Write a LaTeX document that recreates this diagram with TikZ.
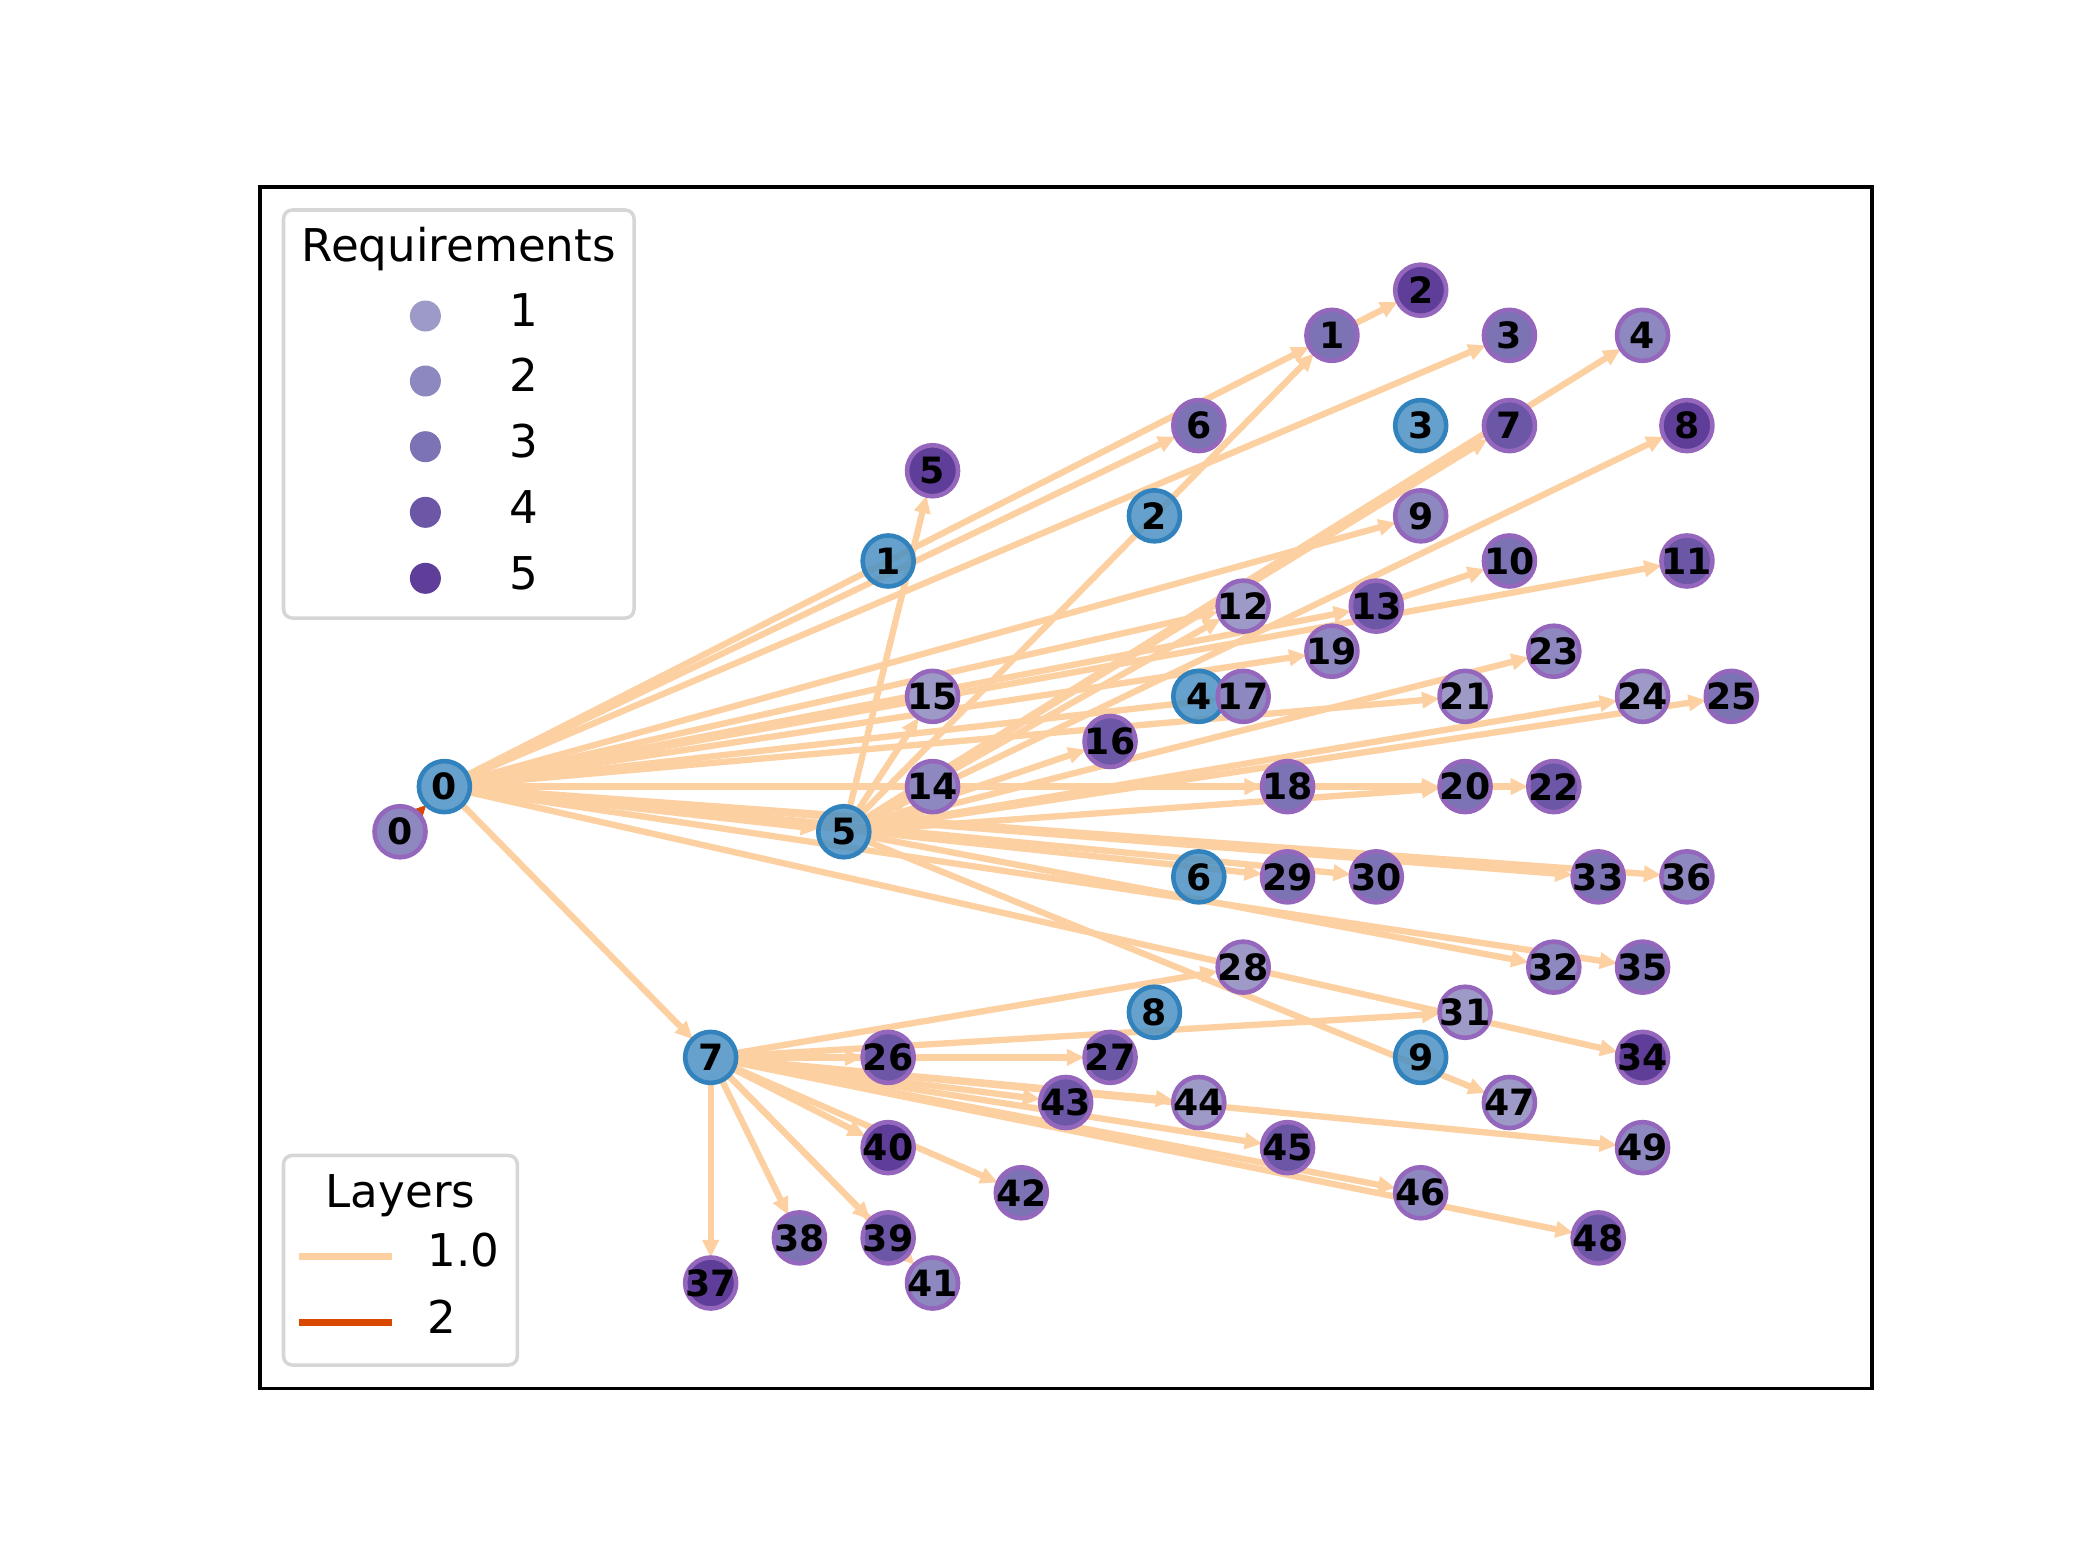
\documentclass[tikz,border=0pt]{standalone}
\usepackage{fontspec}
\setmainfont{DejaVu Sans}
\usepackage{tikz}
\usetikzlibrary{
	arrows.meta,
	backgrounds
}
\definecolor{EdgePeach}{RGB}{253,208,162}
\definecolor{EdgeRed}{RGB}{217,72,1}
\definecolor{HostBlue}{RGB}{74,145,195}
\definecolor{HostLine}{RGB}{49,130,189}
\definecolor{ReqLine}{RGB}{148,103,189}
\definecolor{ReqA}{RGB}{158,154,200}
\definecolor{ReqB}{RGB}{141,137,192}
\definecolor{ReqC}{RGB}{123,115,180}
\definecolor{ReqD}{RGB}{108,86,166}
\definecolor{ReqE}{RGB}{95,62,153}
\definecolor{LegendLine}{RGB}{214,214,214}

\tikzset{
	host/.style={circle, minimum size=0.51cm, inner sep=0pt, outer sep=0pt, line width=1.3pt, draw=HostLine, fill=HostBlue, fill opacity=0.85},
	req/.style={circle, minimum size=0.51cm, inner sep=0pt, outer sep=0pt, line width=1.3pt, draw=ReqLine, fill=#1},
	every label/.style={font=\bfseries\fontsize{10.3}{12}\selectfont, inner sep=0pt, text opacity=1, fill opacity=1},
	link/.style={draw=EdgePeach, line width=1.8pt, -{Triangle[length=5pt, width=4.5pt]}},
	legendbox/.style={draw=LegendLine, fill=white, line width=1pt, rounded corners=2.5pt},
	legendtext/.style={font=\fontsize{12.84}{15.4}\selectfont, inner sep=0pt}
}

\begin{document}
\begin{tikzpicture}[x=0.01cm, y=-0.01cm]
		\useasboundingbox (0,0) rectangle (2080,1560);
		\draw[line width=1pt] (260,187.2) rectangle (1872,1388.4);
		
		\begin{scope}[shift={(444.4,786.6)}, x=0.4435cm, y=0.451cm]
			% 物理节点 0--9
			\foreach \n/\x/\y in {0/0/0, 1/10/5, 2/16/6, 3/22/8, 4/17/2, 5/9/-1, 6/17/-2, 7/6/-6, 8/16/-5, 9/22/-6}
				\node[host, label=center:\n] (h\n) at (\x,\y) {};
			
			% 需求节点 0--49，颜色按需求等级
			\foreach \n/\x/\y/\c in {
				0/-1/-1/ReqB, 1/20/10/ReqC, 2/22/11/ReqE, 3/24/10/ReqC, 4/27/10/ReqB,
				5/11/7/ReqE, 6/17/8/ReqC, 7/24/8/ReqD, 8/28/8/ReqE, 9/22/6/ReqB,
				10/24/5/ReqC, 11/28/5/ReqD, 12/18/4/ReqA, 13/21/4/ReqD, 14/11/0/ReqB,
				15/11/2/ReqA, 16/15/1/ReqD, 17/18/2/ReqB, 18/19/0/ReqC, 19/20/3/ReqB,
				20/23/0/ReqC, 21/23/2/ReqA, 22/25/0/ReqD, 23/25/3/ReqB, 24/27/2/ReqA,
				25/29/2/ReqC, 26/10/-6/ReqD, 27/15/-6/ReqD, 28/18/-4/ReqA, 29/19/-2/ReqC,
				30/21/-2/ReqC, 31/23/-5/ReqA, 32/25/-4/ReqB, 33/26/-2/ReqC, 34/27/-6/ReqE,
				35/27/-4/ReqC, 36/28/-2/ReqB, 37/6/-11/ReqE, 38/8/-10/ReqC, 39/10/-10/ReqD,
				40/10/-8/ReqE, 41/11/-11/ReqB, 42/13/-9/ReqC, 43/14/-7/ReqD, 44/17/-7/ReqA,
				45/19/-8/ReqD, 46/22/-9/ReqB, 47/24/-7/ReqA, 48/26/-10/ReqD, 49/27/-8/ReqB}
				\node[req=\c, label=center:\n] (r\n) at (\x,\y) {};
		\end{scope}
		
		% 连线
		\begin{pgfonlayer}{background}
			\foreach \t in {h5, h7, r1, r6, r3, r9, r12, r13, r11, r19, r17, r21, r18, r20, r29, r30, r33, r36, r35, r34}
				\draw[link] (h0) -- (\t);
			\foreach \t in {r5, r14, r15, r16, r1, r7, r4, r8, r12, r23, r24, r25, r20, r32, r47}
				\draw[link] (h5) -- (\t);
			\foreach \t in {r37, r38, r39, r41, r40, r42, r26, r27, r28, r31, r43, r44, r45, r46, r48, r49}
				\draw[link] (h7) -- (\t);
			\draw[link] (r1) -- (r2);
			\draw[link] (r13) -- (r10);
			\draw[link] (r20) -- (r22);
			\draw[link, draw=EdgeRed] (r0) -- (h0);
		\end{pgfonlayer}
		
		% 图例 Requirements
		\draw[legendbox] (283.5,210) rectangle (634,618);
		\node[legendtext, anchor=base] (reqtitle) at (458.7,261.7) {Requirements};
		\foreach \y/\c/\t in {316/ReqA/1, 381/ReqB/2, 446.7/ReqC/3, 512.3/ReqD/4, 578.3/ReqE/5} {
			\fill[\c] (425.4,\y) circle (0.155cm);
			\node[legendtext, anchor=base west] (reqlab\t) at (509,\y+10.7) {\t};
		}
		
		% 图例 Layers
		\draw[legendbox] (283.5,1155.4) rectangle (517.3,1365);
		\node[legendtext, anchor=base] (laytitle) at (400.4,1207.1) {Layers};
		\draw[EdgePeach, line width=2pt] (299,1256.2) -- (392,1256.2);
		\node[legendtext, anchor=base west] (layone) at (427,1266.9) {1.0};
		\draw[EdgeRed, line width=2pt] (299,1322.5) -- (392,1322.5);
		\node[legendtext, anchor=base west] (laytwo) at (427,1333.2) {2};
	\end{tikzpicture}
\end{document}
